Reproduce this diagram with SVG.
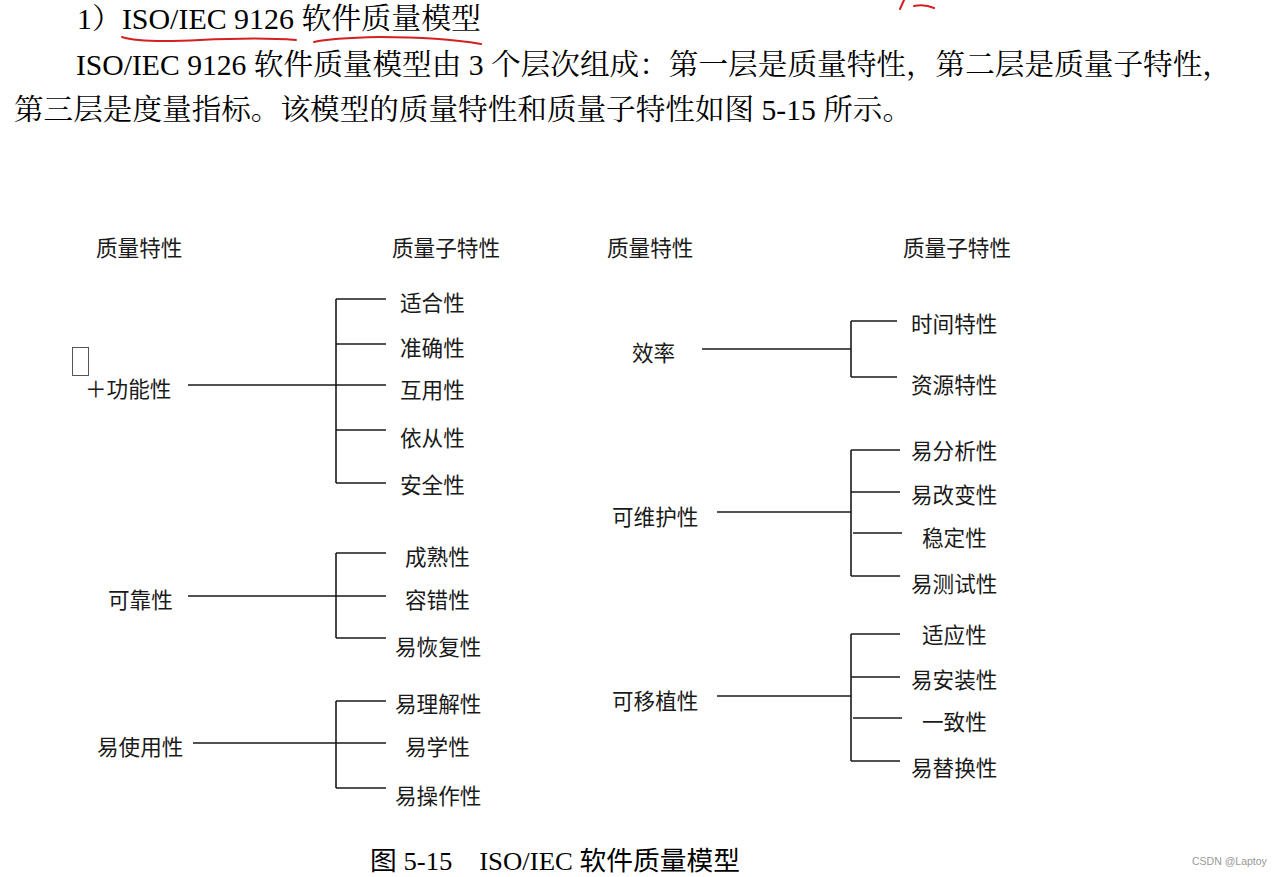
<svg xmlns="http://www.w3.org/2000/svg" width="1285" height="877" viewBox="0 0 1285 877">
<style>
.body{font-family:"Liberation Serif","Noto Serif CJK SC","Noto Sans CJK SC",serif;font-size:29px;fill:#000}
.lbl{font-family:"Noto Sans CJK SC","Noto Sans",sans-serif;font-size:21.6px;fill:#1a1a1a;dominant-baseline:central}
.hdr{font-family:"Noto Sans CJK SC","Noto Sans",sans-serif;font-size:21.6px;fill:#1a1a1a;dominant-baseline:central}
.cap{font-family:"Liberation Serif","Noto Sans CJK SC",serif;font-size:26px;fill:#000}
.ln{fill:none;stroke:#1a1a1a;stroke-width:1.6}
.red{fill:none;stroke:#d42020;stroke-width:2;stroke-linecap:round}
</style>
<rect width="1285" height="877" fill="#fff"/>
<g id="heading">
<text class="body" x="77" y="29" font-size="28" textLength="404" lengthAdjust="spacingAndGlyphs">1）ISO/IEC 9126 软件质量模型</text>
<path class="red" d="M122 37 Q140 43 200 40 Q260 37 296 40"/>
<path class="red" d="M314 42 Q330 38 380 37 Q440 37 481 44"/>
<path class="red" d="M900 9 L904 0 M914 6 Q925 4 934 8"/>
</g>
<g id="paragraph">
<text class="body" x="76" y="75" textLength="1156" lengthAdjust="spacingAndGlyphs">ISO/IEC 9126 软件质量模型由 3 个层次组成：第一层是质量特性，第二层是质量子特性，</text>
<text class="body" x="14" y="120" textLength="898" lengthAdjust="spacingAndGlyphs">第三层是度量指标。该模型的质量特性和质量子特性如图 5-15 所示。</text>
</g>
<g id="headers">
<text class="hdr" x="96" y="246">质量特性</text>
<text class="hdr" x="392" y="246">质量子特性</text>
<text class="hdr" x="607" y="246">质量特性</text>
<text class="hdr" x="903" y="246">质量子特性</text>
</g>
<g id="connectors">
<path class="ln" d="M188 385 H336 M336 299 V483 M336 299 H386 M336 344 H386 M336 385 H386 M336 430 H386 M336 483 H386"/>
<path class="ln" d="M188 596 H336 M336 553 V638 M336 553 H386 M336 596 H386 M336 638 H386"/>
<path class="ln" d="M193 743 H336 M336 701 V788 M336 701 H386 M336 743 H386 M336 788 H386"/>
<path class="ln" d="M702 349 H851 M851 321 V377 M851 321 H897 M851 377 H897"/>
<path class="ln" d="M717 512 H851 M851 450 V576 M851 450 H900 M851 492 H900 M853 533 H902 M851 576 H900"/>
<path class="ln" d="M717 696 H851 M851 634 V761 M851 634 H900 M851 677 H900 M853 718 H902 M851 761 H900"/>
</g>
<g id="node-gongneng">
<rect x="72.5" y="347.5" width="16" height="28" fill="none" stroke="#555" stroke-width="1"/>
<text class="lbl" x="85" y="387">＋功能性</text>
</g>
<g id="node-shihe"><text class="lbl" x="400" y="301">适合性</text></g>
<g id="node-zhunque"><text class="lbl" x="400" y="346">准确性</text></g>
<g id="node-huyong"><text class="lbl" x="400" y="388">互用性</text></g>
<g id="node-yicong"><text class="lbl" x="400" y="436">依从性</text></g>
<g id="node-anquan"><text class="lbl" x="400" y="483">安全性</text></g>
<g id="node-kekao"><text class="lbl" x="108" y="598">可靠性</text></g>
<g id="node-chengshu"><text class="lbl" x="405" y="555">成熟性</text></g>
<g id="node-rongcuo"><text class="lbl" x="405" y="598">容错性</text></g>
<g id="node-yihuifu"><text class="lbl" x="395" y="645">易恢复性</text></g>
<g id="node-yishiyong"><text class="lbl" x="97" y="745">易使用性</text></g>
<g id="node-yilijie"><text class="lbl" x="395" y="702">易理解性</text></g>
<g id="node-yixue"><text class="lbl" x="405" y="745">易学性</text></g>
<g id="node-yicaozuo"><text class="lbl" x="395" y="794">易操作性</text></g>
<g id="node-xiaolv"><text class="lbl" x="632" y="351">效率</text></g>
<g id="node-shijian"><text class="lbl" x="911" y="322">时间特性</text></g>
<g id="node-ziyuan"><text class="lbl" x="911" y="383">资源特性</text></g>
<g id="node-keweihu"><text class="lbl" x="612" y="515">可维护性</text></g>
<g id="node-yifenxi"><text class="lbl" x="911" y="449">易分析性</text></g>
<g id="node-yigaibian"><text class="lbl" x="911" y="493">易改变性</text></g>
<g id="node-wending"><text class="lbl" x="922" y="536">稳定性</text></g>
<g id="node-yiceshi"><text class="lbl" x="911" y="582">易测试性</text></g>
<g id="node-keyizhi"><text class="lbl" x="612" y="699">可移植性</text></g>
<g id="node-shiying"><text class="lbl" x="922" y="633">适应性</text></g>
<g id="node-yianzhuang"><text class="lbl" x="911" y="678">易安装性</text></g>
<g id="node-yizhi"><text class="lbl" x="922" y="720">一致性</text></g>
<g id="node-yitihuan"><text class="lbl" x="911" y="766">易替换性</text></g>
<g id="caption">
<text class="cap" x="370" y="870" textLength="370" lengthAdjust="spacingAndGlyphs">图 5-15　ISO/IEC 软件质量模型</text>
<text x="1192" y="865" font-family="Liberation Sans,sans-serif" font-size="10.5" fill="#999">CSDN @Laptoy</text>
</g>
</svg>
